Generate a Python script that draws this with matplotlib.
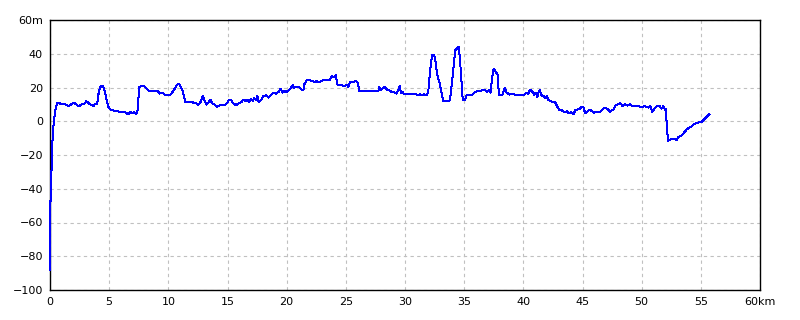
import matplotlib
matplotlib.use("Agg")
import matplotlib.pyplot as plt

# distance (km) and elevation (m)
dist_km = [0.0, 0.03, 0.08, 0.14, 0.22, 0.31, 0.48, 0.65, 0.85, 1.12, 1.32, 1.55, 1.77, 2.05, 2.28,
           2.5, 2.73, 2.9, 3.07, 3.24, 3.4, 3.58, 3.69, 3.8, 3.95, 4.03, 4.14, 4.31, 4.45, 4.54,
           4.65, 4.79, 4.93, 5.1, 5.26, 5.49, 5.72, 5.94, 6.17, 6.4, 6.62, 6.79, 6.96, 7.12, 7.24,
           7.38, 7.46, 7.55, 7.75, 7.92, 8.09, 8.31, 8.59, 8.87, 9.1, 9.27, 9.49, 9.66, 9.89, 10.14,
           10.37, 10.65, 10.84, 10.99, 11.21, 11.43, 11.72, 12.0, 12.17, 12.34, 12.51, 12.68, 12.79,
           12.93, 13.07, 13.24, 13.41, 13.55, 13.69, 13.86, 14.08, 14.31, 14.54, 14.76, 14.93, 15.1,
           15.32, 15.49, 15.72, 15.94, 16.17, 16.34, 16.5, 16.67, 16.84, 16.96, 17.13, 17.24, 17.41,
           17.52, 17.64, 17.86, 18.03, 18.25, 18.48, 18.65, 18.87, 19.1, 19.32, 19.49, 19.66, 19.83,
           20.0, 20.17, 20.34, 20.51, 20.62, 20.85, 21.1, 21.27, 21.41, 21.49, 21.69, 21.97, 22.25,
           22.39, 22.54, 22.68, 22.96, 23.24, 23.41, 23.66, 23.8, 24.03, 24.17, 24.25, 24.37, 24.65,
           24.87, 25.07, 25.21, 25.35, 25.63, 25.83, 26.0, 26.14, 26.34, 27.75, 27.83, 27.97, 28.08,
           28.31, 28.48, 28.65, 28.87, 29.1, 29.3, 29.43, 29.55, 29.66, 29.77, 29.94, 30.14, 30.84,
           31.13, 31.27, 31.41, 31.63, 31.83, 31.97, 32.11, 32.28, 32.45, 32.56, 32.73, 32.9, 33.07,
           33.24, 33.52, 33.75, 33.87, 34.0, 34.14, 34.25, 34.42, 34.54, 34.65, 34.76, 34.88, 35.05,
           35.21, 35.44, 35.72, 35.89, 36.11, 36.34, 36.56, 36.79, 36.96, 37.13, 37.24, 37.35, 37.5,
           37.69, 37.86, 37.92, 38.25, 38.42, 38.59, 38.82, 39.04, 39.27, 39.44, 39.66, 39.89, 40.11,
           40.28, 40.42, 40.56, 40.73, 40.9, 41.07, 41.18, 41.3, 41.41, 41.52, 41.69, 41.83, 41.97,
           42.11, 42.28, 42.45, 42.68, 42.85, 43.02, 43.24, 43.47, 43.69, 43.86, 44.03, 44.23, 44.42,
           44.59, 44.79, 44.93, 45.1, 45.21, 45.38, 45.61, 45.77, 46.0, 46.23, 46.45, 46.68, 46.85,
           47.01, 47.18, 47.32, 47.46, 47.63, 47.8, 48.03, 48.2, 48.37, 48.59, 48.82, 49.04, 49.21,
           49.44, 49.72, 50.0, 50.28, 50.56, 50.73, 50.9, 51.07, 51.3, 51.52, 51.69, 51.83, 51.97,
           52.06, 52.11, 52.23, 52.39, 52.62, 52.82, 52.96, 53.07, 53.3, 53.47, 53.64, 53.8, 54.03,
           54.23, 54.42, 54.65, 54.87, 55.04, 55.21, 55.44, 55.61, 55.72]
elev_m = [-88, -47, -47, -24, -10, -1, 8, 11.1, 10.5, 10.5, 9.9, 9, 9.9, 11, 9.5,
          9, 10.5, 10.3, 11.9, 11, 9.9, 9.9, 8.9, 10.5, 9.9, 12.4, 18.4, 20.9, 20.9, 19.8,
          17, 12.4, 8.5, 7.1, 6.5, 6.1, 5.9, 5.5, 5.5, 5.1, 4.1, 5.5, 4.9, 5.5, 4.3,
          5, 12.4, 20.3, 20.9, 20.9, 19.8, 18.2, 18.2, 17.8, 17.8, 16.4, 17, 15.8, 15.4, 15.4,
          17.4, 20.7, 22.3, 21.3, 18, 11.4, 11.3, 11.4, 10.8, 10.8, 9.9, 10.8, 12.4,
          15.2, 12, 9.9, 11.4, 12.8, 10.8, 10.1, 8.5, 9.3, 9.7, 9.7, 10.5, 12.4,
          12.4, 10.5, 9.5, 10.5, 11.4, 12.8, 12, 12.8, 11.4, 13.4, 12, 13.8, 12.8,
          14.8, 11.4, 12.8, 14.8, 15.4, 14, 15.6, 16.8, 16.4, 17.4, 19.4, 17, 18,
          17.4, 18.4, 19.4, 21.5, 19.9, 20.3, 20, 18.8, 18.4, 21.9, 24.3, 24.3, 23.7,
          23.3, 23.7, 23.1, 23.9, 24.7, 24.3, 24.7, 26.7, 26.3, 27.3, 22.3, 21.3, 21.3,
          20.7, 21.7, 20.3, 23.1, 23.3, 23.9, 22.7, 18, 18, 18, 20.3, 18.4, 19.4,
          20.3, 18.8, 18.4, 17.4, 17, 16.4, 18.4, 20.7, 17, 17.4, 16, 16, 16,
          15.6, 16, 15.6, 16, 15.4, 17.8, 29.2, 39.1, 39.5, 36.1, 27.3, 23.3, 17.4,
          11.9, 11.9, 11.9, 16.4, 25.3, 35.1, 42.1, 43.4, 44, 36.1, 25.3, 12.4, 12.4,
          15.4, 15.8, 15.8, 17, 17.8, 17.8, 18.4, 18.4, 17.4, 18.4, 17, 25.3, 31.2,
          28.9, 27.3, 15.8, 15.8, 19.8, 17, 15.8, 16.4, 15.8, 15.4, 15.4, 15.8, 15.8,
          17, 16, 18.6, 17.8, 15.8, 17, 14.4, 17.4, 18.4, 15.4, 15, 14, 14.8,
          12.8, 12, 11.4, 11.4, 8.9, 6.9, 6.5, 5.5, 5.9, 4.6, 5.5, 4.1, 6.9,
          6.9, 7.5, 8.5, 8.1, 4.9, 5.5, 6.9, 6.1, 5.1, 5.7, 5.3, 6.9, 8.1,
          7.5, 6.9, 5.5, 6.5, 6.9, 9.5, 10.1, 10.8, 8.9, 10.1, 9.3, 10.1, 8.9,
          8.9, 8.9, 8.5, 8.9, 8.1, 8.9, 5.5, 7.5, 8.9, 8.9, 7.5, 8.9, 6.9,
          7.5, -1.4, -11.7, -10.9, -10.3, -10.3, -11.3, -9.3, -8.9, -7.7, -6.3, -4.9, -3.7,
          -3, -1.8, -1, -0.6, -0.6, 0.6, 2.2, 3.4, 4.1]

x_ticks = [0, 5, 10, 15, 20, 25, 30, 35, 40, 45, 50, 55, 60]
x_labels = ["0", "5", "10", "15", "20", "25", "30", "35", "40", "45", "50", "55", "60km"]
y_ticks = [-100, -80, -60, -40, -20, 0, 20, 40, 60]
y_labels = ["\u2212100", "\u221280", "\u221260", "\u221240", "\u221220", "0", "20", "40", "60m"]

fig = plt.figure(figsize=(8, 3.2), dpi=100)
ax = fig.add_axes([50 / 800, 1 - 290 / 320, 710 / 800, 270 / 320])
ax.plot(dist_km, elev_m, color="#0000ff", lw=0.72, zorder=3, clip_on=False, antialiased=False)
ax.set_xlim(0, 60)
ax.set_ylim(-100, 60)
ax.set_xticks(x_ticks)
ax.set_xticklabels(x_labels)
ax.set_yticks(y_ticks)
ax.set_yticklabels(y_labels)
ax.tick_params(length=0, labelsize=8, pad=5)
ax.grid(True, color="#c0c0c0", linestyle=(0, (3, 3)), lw=0.8)
for s in ax.spines.values():
    s.set_color("black")
    s.set_linewidth(1.0)
fig.savefig("out.png", dpi=100)
